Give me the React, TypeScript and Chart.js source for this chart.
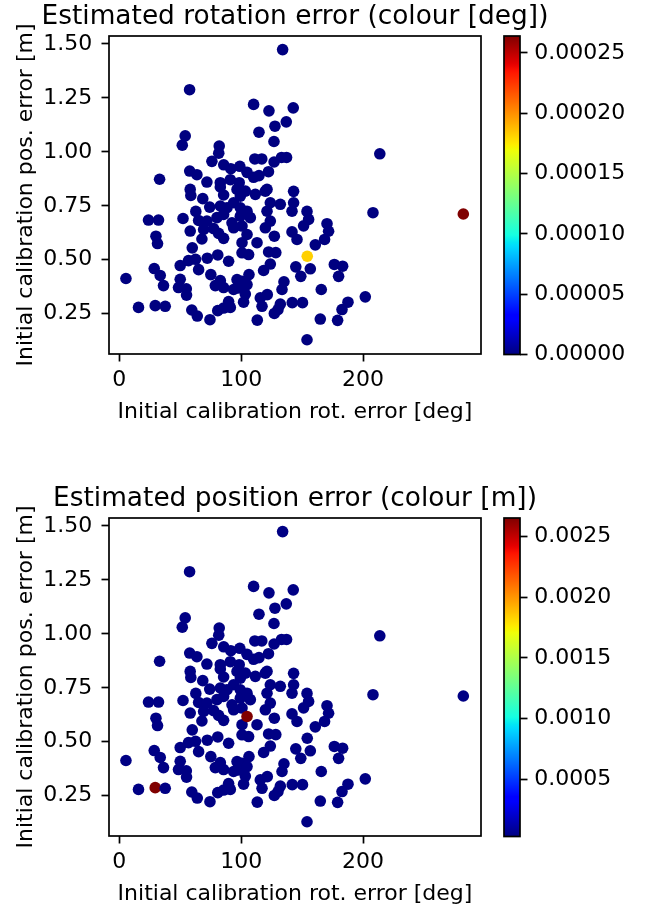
import React, { useEffect, useRef } from 'react';
import { Chart, registerables } from 'chart.js';

Chart.register(...registerables);

// ---------------- data ----------------
// Initial calibration rotation error [deg] (x)
const calibRotErrDeg = [
  5.5, 15.8, 29.5, 37.7, 24.0, 32.2, 30.1, 31.4, 28.7, 33.6,
  36.3, 33.1, 57.7, 54.1, 51.7, 134.0, 110.2, 122.8, 142.7, 137.0,
  127.7, 114.6, 126.9, 82.0, 81.6, 76.0, 85.7, 91.5, 98.9, 57.8,
  63.7, 71.9, 82.9, 91.1, 98.4, 111.2, 116.9, 127.0, 133.1, 137.2,
  104.8, 110.2, 114.6, 122.4, 121.2, 143.0, 58.2, 58.7, 68.5, 82.9,
  85.6, 96.6, 99.3, 93.8, 74.2, 62.8, 82.9, 88.4, 99.3, 52.3,
  65.1, 71.9, 80.1, 85.6, 92.5, 99.3, 58.2, 69.2, 77.4, 93.8,
  100.7, 103.4, 111.6, 119.8, 123.9, 132.1, 143.0, 141.7, 154.0, 155.3,
  151.2, 104.8, 107.5, 121.2, 123.9, 119.8, 141.7, 170.4, 171.7, 168.4,
  160.8, 208.1, 145.8, 127.2, 122.5, 128.4, 123.9, 118.4, 106.4, 154.2,
  144.8, 156.7, 148.9, 176.4, 183.2, 179.9, 135.1, 133.5, 165.7, 201.8,
  187.6, 182.7, 179.1, 164.9, 154.0, 141.9, 150.3, 132.1, 130.2, 127.2,
  113.2, 121.4, 115.7, 117.1, 103.4, 102.0, 96.6, 97.9, 67.8, 59.9,
  81.5, 85.6, 100.7, 104.8, 113.0, 106.1, 100.7, 100.7, 104.8, 50.0,
  56.8, 62.6, 65.1, 72.2, 80.8, 89.7, 75.1, 82.9, 78.8, 85.6,
  93.8, 50.0, 48.6, 55.0, 55.2, 59.5, 64.0, 74.4, 80.8, 89.7,
  85.6, 91.1, 213.7, 282.2,
];

// Initial calibration position error [m] (y)
const calibPosErrM = [
  0.413, 0.279, 0.287, 0.284, 0.684, 0.684, 0.609, 0.575, 0.459, 0.427,
  0.380, 0.873, 1.288, 1.074, 1.031, 1.474, 1.220, 1.190, 1.204, 1.139,
  1.119, 1.091, 1.048, 1.027, 0.994, 0.956, 0.940, 0.922, 0.933, 0.911,
  0.894, 0.860, 0.857, 0.871, 0.857, 0.967, 0.967, 0.953, 0.974, 0.974,
  0.905, 0.882, 0.890, 0.908, 0.826, 0.817, 0.826, 0.798, 0.783, 0.837,
  0.800, 0.826, 0.795, 0.764, 0.744, 0.724, 0.749, 0.741, 0.741, 0.691,
  0.682, 0.679, 0.695, 0.710, 0.671, 0.702, 0.633, 0.640, 0.644, 0.648,
  0.656, 0.818, 0.803, 0.818, 0.764, 0.757, 0.764, 0.725, 0.724, 0.687,
  0.657, 0.725, 0.695, 0.725, 0.679, 0.648, 0.629, 0.667, 0.632, 0.594,
  0.569, 0.718, 0.594, 0.609, 0.536, 0.533, 0.480, 0.450, 0.431, 0.516,
  0.467, 0.458, 0.423, 0.478, 0.470, 0.423, 0.398, 0.362, 0.362, 0.328,
  0.303, 0.269, 0.219, 0.225, 0.129, 0.301, 0.301, 0.294, 0.269, 0.251,
  0.220, 0.338, 0.323, 0.284, 0.341, 0.303, 0.408, 0.369, 0.596, 0.555,
  0.622, 0.599, 0.579, 0.617, 0.579, 0.524, 0.532, 0.400, 0.385, 0.473,
  0.496, 0.502, 0.454, 0.507, 0.522, 0.493, 0.431, 0.403, 0.380, 0.371,
  0.362, 0.409, 0.371, 0.365, 0.336, 0.267, 0.239, 0.222, 0.264, 0.306,
  0.276, 0.279, 0.991, 0.712,
];

// Estimated rotation error [deg] (colour, top panel)
const estRotErrDeg = [
  0, 0, 0, 0, 0, 0, 0, 0, 0, 0,
  0, 0, 0, 0, 0, 0, 0, 0, 0, 0,
  0, 0, 0, 0, 0, 0, 0, 0, 0, 0,
  0, 0, 0, 0, 0, 0, 0, 0, 0, 0,
  0, 0, 0, 0, 0, 0, 0, 0, 0, 0,
  0, 0, 0, 0, 0, 0, 0, 0, 0, 0,
  0, 0, 0, 0, 0, 0, 0, 0, 0, 0,
  0, 0, 0, 0, 0, 0, 0, 0, 0, 0,
  0, 0, 0, 0, 0, 0, 0, 0, 0, 0,
  0, 0, 0, 0, 0, 0, 0, 0, 0, 0.000182,
  0, 0, 0, 0, 0, 0, 0, 0, 0, 0,
  0, 0, 0, 0, 0, 0, 0, 0, 0, 0,
  0, 0, 0, 0, 0, 0, 0, 0, 0, 0,
  0, 0, 0, 0, 0, 0, 0, 0, 0, 0,
  0, 0, 0, 0, 0, 0, 0, 0, 0, 0,
  0, 0, 0, 0, 0, 0, 0, 0, 0, 0,
  0, 0, 0, 0.000264,
];

// Estimated position error [m] (colour, bottom panel)
const estPosErrM = [
  0.00004, 0.00004, 0.00265, 0.00004, 0.00004, 0.00004, 0.00004, 0.00004, 0.00004, 0.00004,
  0.00004, 0.00004, 0.00004, 0.00004, 0.00004, 0.00004, 0.00004, 0.00004, 0.00004, 0.00004,
  0.00004, 0.00004, 0.00004, 0.00004, 0.00004, 0.00004, 0.00004, 0.00004, 0.00004, 0.00004,
  0.00004, 0.00004, 0.00004, 0.00004, 0.00004, 0.00004, 0.00004, 0.00004, 0.00004, 0.00004,
  0.00004, 0.00004, 0.00004, 0.00004, 0.00004, 0.00004, 0.00004, 0.00004, 0.00004, 0.00004,
  0.00004, 0.00004, 0.00004, 0.00004, 0.00004, 0.00004, 0.00004, 0.00004, 0.00004, 0.00004,
  0.00004, 0.00004, 0.00004, 0.00004, 0.00004, 0.00004, 0.00004, 0.00004, 0.00004, 0.00004,
  0.00004, 0.00004, 0.00004, 0.00004, 0.00004, 0.00004, 0.00004, 0.00004, 0.00004, 0.00004,
  0.00004, 0.00004, 0.00004, 0.00004, 0.00004, 0.00004, 0.00004, 0.00004, 0.00004, 0.00004,
  0.00004, 0.00004, 0.00004, 0.00004, 0.00004, 0.00004, 0.00004, 0.00004, 0.00004, 0.00004,
  0.00004, 0.00004, 0.00004, 0.00004, 0.00004, 0.00004, 0.00004, 0.00004, 0.00004, 0.00004,
  0.00004, 0.00004, 0.00004, 0.00004, 0.00004, 0.00004, 0.00004, 0.00004, 0.00004, 0.00004,
  0.00004, 0.00004, 0.00004, 0.00004, 0.00004, 0.00004, 0.00004, 0.00004, 0.00004, 0.00004,
  0.00004, 0.00004, 0.00004, 0.00265, 0.00004, 0.00004, 0.00004, 0.00004, 0.00004, 0.00004,
  0.00004, 0.00004, 0.00004, 0.00004, 0.00004, 0.00004, 0.00004, 0.00004, 0.00004, 0.00004,
  0.00004, 0.00004, 0.00004, 0.00004, 0.00004, 0.00004, 0.00004, 0.00004, 0.00004, 0.00004,
  0.00004, 0.00004, 0.00004, 0.00004,
];

// axis ranges & ticks
const xRange = [-8.4, 296.7];
const yRange = [0.063, 1.537];
const xTicks = [0, 100, 200];
const yTicks = [0.25, 0.5, 0.75, 1.0, 1.25, 1.5];
const rotColourRange = [0, 0.000264];
const rotColourTicks = [0, 0.00005, 0.0001, 0.00015, 0.0002, 0.00025];
const posColourRange = [0.00003, 0.00265];
const posColourTicks = [0.0005, 0.001, 0.0015, 0.002, 0.0025];

const xTitle = 'Initial calibration rot. error [deg]';
const yTitle = 'Initial calibration pos. error [m]';
const rotTitle = 'Estimated rotation error (colour [deg])';
const posTitle = 'Estimated position error (colour [m])';

// ---------------- colormap (matplotlib jet) ----------------
const JET_R: number[][] = [[0, 0], [0.35, 0], [0.66, 1], [0.89, 1], [1, 0.5]];
const JET_G: number[][] = [[0, 0], [0.125, 0], [0.375, 1], [0.64, 1], [0.91, 0], [1, 0]];
const JET_B: number[][] = [[0, 0.5], [0.11, 1], [0.34, 1], [0.65, 0], [1, 0]];

function seg(p: number[][], t: number) {
  for (let i = 0; i < p.length - 1; i++) {
    if (t <= p[i + 1][0]) {
      const f = (t - p[i][0]) / (p[i + 1][0] - p[i][0]);
      return p[i][1] + f * (p[i + 1][1] - p[i][1]);
    }
  }
  return p[p.length - 1][1];
}
function jet(t: number) {
  const v = Math.min(1, Math.max(0, t));
  const r = Math.round(seg(JET_R, v) * 255);
  const g = Math.round(seg(JET_G, v) * 255);
  const b = Math.round(seg(JET_B, v) * 255);
  return `rgb(${r},${g},${b})`;
}

const FONT = "'DejaVu Sans', 'Liberation Sans', sans-serif";
const TICK_SIZE = 22;
const LABEL_SIZE = 22;
const TITLE_SIZE = 26.4;
const TICK_LEN = 7.5;
const LINE_W = 1.7;
Chart.defaults.font.family = FONT;
Chart.defaults.color = '#000';

const spinePlugin = {
  id: 'spines',
  afterDraw(chart: any) {
    const { ctx, chartArea } = chart;
    const { left, top, right, bottom } = chartArea;
    ctx.save();
    ctx.strokeStyle = '#000';
    ctx.lineWidth = LINE_W;
    ctx.strokeRect(left, top, right - left, bottom - top);
    ctx.restore();
  },
};

// axis labels drawn as text, placed relative to the chart area
const axisLabelPlugin = {
  id: 'axisLabels',
  afterDraw(chart: any) {
    const { ctx, chartArea } = chart;
    const { left, top, right, bottom } = chartArea;
    ctx.save();
    ctx.fillStyle = '#000';
    ctx.font = `${LABEL_SIZE}px ${FONT}`;
    ctx.textAlign = 'center';
    ctx.textBaseline = 'alphabetic';
    // x label
    ctx.fillText(xTitle, (left + right) / 2, bottom + 63.7);
    // y label (rotated)
    ctx.translate(left - 77.3, (top + bottom) / 2);
    ctx.rotate(-Math.PI / 2);
    ctx.fillText(yTitle, 0, 0);
    ctx.restore();
  },
};

const PANEL_W = 590;
const PANEL_H = 423;
const CB_LEFT = 490;
const CB_W = 156;

const tickGrid = {
  display: true,
  drawOnChartArea: false,
  drawTicks: true,
  tickLength: TICK_LEN,
  tickColor: '#000',
  tickWidth: LINE_W,
};

const setTicks = (vals: number[]) => (s: any) => {
  s.ticks = vals.map((v) => ({ value: v }));
};

function Panel(props: {
  top: number;
  title: string;
  colours: number[];
  cRange: number[];
  cTicks: number[];
  cDigits: number;
}) {
  const { top, title, colours, cRange, cTicks, cDigits } = props;
  const ref = useRef<HTMLCanvasElement>(null);
  const cbRef = useRef<HTMLCanvasElement>(null);

  useEffect(() => {
    const pts = calibRotErrDeg.map((x, i) => ({ x, y: calibPosErrM[i] }));
    const cols = colours.map((v) => jet((v - cRange[0]) / (cRange[1] - cRange[0])));

    const chart = new Chart(ref.current as HTMLCanvasElement, {
      type: 'scatter',
      data: {
        datasets: [
          {
            data: pts,
            pointRadius: 5.8,
            pointHoverRadius: 5.8,
            pointBackgroundColor: cols,
            pointBorderWidth: 0,
            borderWidth: 0,
          } as any,
        ],
      },
      options: {
        animation: false,
        responsive: false,
        maintainAspectRatio: false,
        events: [],
        layout: { padding: { left: 0, right: 0, top: 0, bottom: 0.5 } },
        plugins: {
          legend: { display: false },
          tooltip: { enabled: false },
          title: {
            display: true,
            text: title,
            color: '#000',
            fullSize: true,
            font: { size: TITLE_SIZE, weight: 'normal', family: FONT, lineHeight: 1.17 },
            padding: { top: 1.5, bottom: 36 - 1.5 - TITLE_SIZE * 1.17 },
          },
        },
        scales: {
          x: {
            type: 'linear',
            bounds: 'data',
            min: xRange[0],
            max: xRange[1],
            border: { display: false },
            grid: tickGrid,
            afterBuildTicks: setTicks(xTicks),
            ticks: {
              color: '#000',
              font: { size: TICK_SIZE, family: FONT },
              padding: 5.8,
              maxRotation: 0,
              autoSkip: false,
              callback: (v: any) => String(v),
            },
            afterFit: (s: any) => {
              s.height = 68.5;
            },
          },
          y: {
            type: 'linear',
            bounds: 'data',
            min: yRange[0],
            max: yRange[1],
            border: { display: false },
            grid: tickGrid,
            afterBuildTicks: setTicks(yTicks),
            ticks: {
              color: '#000',
              font: { size: TICK_SIZE, family: FONT },
              padding: 9.3,
              autoSkip: false,
              callback: (v: any) => Number(v).toFixed(2),
            },
            afterFit: (s: any) => {
              s.width = 109;
            },
          },
          y2: {
            type: 'linear',
            position: 'right',
            display: true,
            grid: { display: false },
            ticks: { display: false },
            border: { display: false },
            afterFit: (s: any) => {
              s.width = 109;
            },
          },
        },
      } as any,
      plugins: [spinePlugin, axisLabelPlugin],
    });

    const cb = new Chart(cbRef.current as HTMLCanvasElement, {
      type: 'bar',
      data: {
        labels: [''],
        datasets: [
          {
            data: [[cRange[0], cRange[1]]],
            backgroundColor: (c: any) => {
              const a = c.chart.chartArea;
              if (!a) return '#000080';
              const g = c.chart.ctx.createLinearGradient(0, a.bottom, 0, a.top);
              for (let i = 0; i <= 128; i++) g.addColorStop(i / 128, jet(i / 128));
              return g;
            },
            borderWidth: 0,
            barPercentage: 1,
            categoryPercentage: 1,
          } as any,
        ],
      },
      options: {
        animation: false,
        responsive: false,
        maintainAspectRatio: false,
        events: [],
        layout: { padding: { left: 14, right: 0, top: 36, bottom: PANEL_H - 354.5 } },
        plugins: { legend: { display: false }, tooltip: { enabled: false }, title: { display: false } },
        scales: {
          x: { display: false },
          y: {
            type: 'linear',
            position: 'right',
            bounds: 'data',
            min: cRange[0],
            max: cRange[1],
            border: { display: false },
            grid: tickGrid,
            afterBuildTicks: setTicks(cTicks),
            ticks: {
              color: '#000',
              font: { size: TICK_SIZE, family: FONT },
              padding: 6.7,
              autoSkip: false,
              callback: (v: any) => Number(v).toFixed(cDigits),
            },
            afterFit: (s: any) => {
              s.width = CB_W - 14 - 16;
            },
          },
        },
      } as any,
      plugins: [spinePlugin],
    });

    return () => {
      chart.destroy();
      cb.destroy();
    };
  }, []);

  return (
    <>
      <canvas
        ref={ref}
        width={PANEL_W}
        height={PANEL_H}
        style={{ position: 'absolute', left: 0, top, width: PANEL_W, height: PANEL_H, display: 'block' }}
      />
      <canvas
        ref={cbRef}
        width={CB_W}
        height={PANEL_H}
        style={{ position: 'absolute', left: CB_LEFT, top, width: CB_W, height: PANEL_H, display: 'block' }}
      />
    </>
  );
}

export default function App() {
  return (
    <div
      style={{
        position: 'absolute',
        left: 0,
        top: 0,
        width: 646,
        height: 905,
        background: '#fff',
        overflow: 'hidden',
      }}
    >
      <Panel top={0} title={rotTitle} colours={estRotErrDeg} cRange={rotColourRange} cTicks={rotColourTicks} cDigits={5} />
      <Panel top={482} title={posTitle} colours={estPosErrM} cRange={posColourRange} cTicks={posColourTicks} cDigits={4} />
    </div>
  );
}
